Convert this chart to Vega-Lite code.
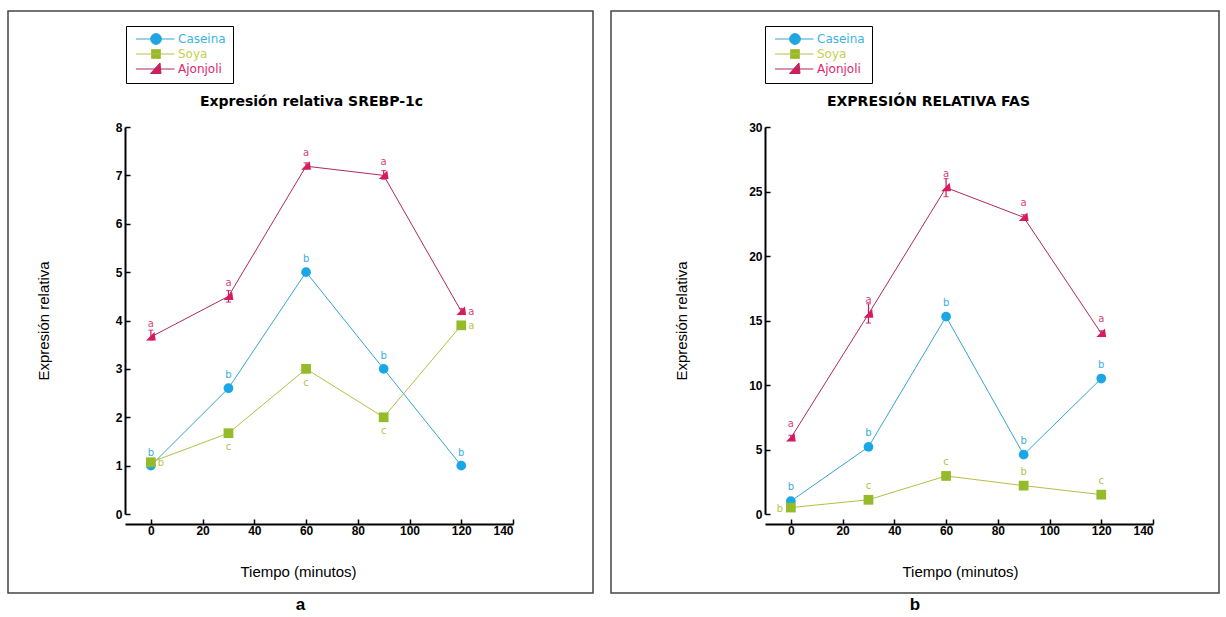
{
  "$schema": "https://vega.github.io/schema/vega-lite/v6.json",
  "padding": {"left": 7, "top": 10, "right": 4, "bottom": 0},
  "spacing": 16,
  "config": {
    "view": {"stroke": "#444", "strokeWidth": 1.5},
    "font": "Liberation Sans"
  },
  "datasets": {
    "a": [
      {"serie": "Caseina", "t": 0, "v": 1.0, "let": "b", "pos": "above"},
      {"serie": "Caseina", "t": 30, "v": 2.6, "let": "b", "pos": "above"},
      {"serie": "Caseina", "t": 60, "v": 5.0, "let": "b", "pos": "above"},
      {"serie": "Caseina", "t": 90, "v": 3.0, "let": "b", "pos": "above"},
      {"serie": "Caseina", "t": 120, "v": 1.0, "let": "b", "pos": "above"},
      {"serie": "Soya", "t": 0, "v": 1.07, "let": "b", "pos": "right"},
      {"serie": "Soya", "t": 30, "v": 1.67, "let": "c", "pos": "below"},
      {"serie": "Soya", "t": 60, "v": 3.0, "let": "c", "pos": "below"},
      {"serie": "Soya", "t": 90, "v": 2.0, "let": "c", "pos": "below"},
      {"serie": "Soya", "t": 120, "v": 3.9, "let": "a", "pos": "right"},
      {"serie": "Ajonjoli", "t": 0, "v": 3.66, "lo": 3.6, "hi": 3.8, "let": "a", "pos": "above"},
      {"serie": "Ajonjoli", "t": 30, "v": 4.5, "lo": 4.38, "hi": 4.62, "let": "a", "pos": "above"},
      {"serie": "Ajonjoli", "t": 60, "v": 7.19, "lo": 7.14, "hi": 7.26, "let": "a", "pos": "above"},
      {"serie": "Ajonjoli", "t": 90, "v": 7.0, "lo": 6.92, "hi": 7.1, "let": "a", "pos": "above"},
      {"serie": "Ajonjoli", "t": 120, "v": 4.19, "lo": 4.14, "hi": 4.25, "let": "a", "pos": "right"}
    ],
    "b": [
      {"serie": "Caseina", "t": 0, "v": 1.0, "let": "b", "pos": "above"},
      {"serie": "Caseina", "t": 30, "v": 5.2, "let": "b", "pos": "above"},
      {"serie": "Caseina", "t": 60, "v": 15.3, "let": "b", "pos": "above"},
      {"serie": "Caseina", "t": 90, "v": 4.6, "let": "b", "pos": "above"},
      {"serie": "Caseina", "t": 120, "v": 10.5, "let": "b", "pos": "above"},
      {"serie": "Soya", "t": 0, "v": 0.5, "let": "b", "pos": "left"},
      {"serie": "Soya", "t": 30, "v": 1.1, "let": "c", "pos": "above"},
      {"serie": "Soya", "t": 60, "v": 2.95, "let": "c", "pos": "above"},
      {"serie": "Soya", "t": 90, "v": 2.2, "let": "b", "pos": "above"},
      {"serie": "Soya", "t": 120, "v": 1.5, "let": "c", "pos": "above"},
      {"serie": "Ajonjoli", "t": 0, "v": 5.9, "lo": 5.7, "hi": 6.1, "let": "a", "pos": "above"},
      {"serie": "Ajonjoli", "t": 30, "v": 15.5, "lo": 14.8, "hi": 16.3, "let": "a", "pos": "above"},
      {"serie": "Ajonjoli", "t": 60, "v": 25.3, "lo": 24.6, "hi": 26.0, "let": "a", "pos": "above"},
      {"serie": "Ajonjoli", "t": 90, "v": 23.0, "lo": 22.8, "hi": 23.2, "let": "a", "pos": "above"},
      {"serie": "Ajonjoli", "t": 120, "v": 14.0, "lo": 13.8, "hi": 14.2, "let": "a", "pos": "above"}
    ]
  },
  "hconcat": [
    {
      "width": 585,
      "height": 582,
      "data": {"name": "a"},
      "title": {"text": "a", "orient": "bottom", "fontSize": 17, "fontWeight": "bold", "offset": 4, "font": "Liberation Sans", "color": "#000"},
      "resolve": {"axis": {"x": "independent"}, "scale": {"shape": "independent", "color": "independent"}},
      "layer": [
        {
          "mark": {"type": "line", "strokeWidth": 1},
          "encoding": {
            "x": {"field": "t", "type": "quantitative",
              "scale": {"domain": [-10, 140], "range": [117, 505], "nice": false, "zero": false},
              "axis": {"orient": "bottom", "offset": -69, "values": [0, 20, 40, 60, 80, 100, 120, 140], "tickSize": -5, "tickColor": "#000", "tickWidth": 1.5, "domainColor": "#000", "domainWidth": 2, "labelFont": "Liberation Sans", "labelFontWeight": "bold", "labelFontSize": 12, "labelColor": "#000", "labelPadding": 6, "grid": false, "title": "Tiempo (minutos)", "titleFont": "Liberation Sans", "titleFontSize": 15, "titleFontWeight": "normal", "titleColor": "#000", "titleX": 290, "titleY": 40}},
            "y": {"field": "v", "type": "quantitative",
              "scale": {"domain": [0, 8], "range": [503, 116], "nice": false, "zero": false},
              "axis": {"orient": "left", "offset": -117, "values": [0, 1, 2, 3, 4, 5, 6, 7, 8], "format": "d", "tickSize": -5, "tickColor": "#000", "tickWidth": 1.5, "domainColor": "#000", "domainWidth": 2, "labelFont": "Liberation Sans", "labelFontWeight": "bold", "labelFontSize": 12, "labelColor": "#000", "labelPadding": 8, "grid": false, "title": "Expresión relativa", "titleFont": "Liberation Sans", "titleFontSize": 15, "titleFontWeight": "normal", "titleColor": "#000", "titleX": -82, "titleBaseline": "middle"}},
            "color": {"field": "serie", "type": "nominal", "scale": {"domain": ["Caseina", "Soya", "Ajonjoli"], "range": ["#35a3d6", "#b5bf45", "#b0285e"]}, "legend": null}
          }
        },
        {
          "transform": [{"filter": "isValid(datum.lo)"}],
          "mark": {"type": "errorbar", "ticks": true, "thickness": 1.2},
          "encoding": {
            "x": {"field": "t", "type": "quantitative", "axis": null},
            "y": {"field": "lo", "type": "quantitative", "title": "Expresión relativa"},
            "y2": {"field": "hi"},
            "color": {"field": "serie", "type": "nominal", "scale": {"domain": ["Caseina", "Soya", "Ajonjoli"], "range": ["#1aa7e0", "#99bb33", "#c81a5a"]}, "legend": null}
          }
        },
        {
          "mark": {"type": "point", "filled": true, "size": 95, "opacity": 1},
          "encoding": {
            "x": {"field": "t", "type": "quantitative", "axis": null},
            "y": {"field": "v", "type": "quantitative"},
            "shape": {"field": "serie", "type": "nominal", "scale": {"domain": ["Caseina", "Soya", "Ajonjoli"], "range": ["circle", "square", "M-1,0.75L1,0.75L0.75,-1Z"]}, "legend": null},
            "color": {"field": "serie", "type": "nominal", "scale": {"domain": ["Caseina", "Soya", "Ajonjoli"], "range": ["#1aa7e6", "#95bb2b", "#d81b60"]}, "legend": null}
          }
        },
        {
          "transform": [{"filter": "datum.pos === 'above'"}],
          "mark": {"type": "text", "dy": -13, "fontSize": 10, "font": "DejaVu Sans"},
          "encoding": {
            "x": {"field": "t", "type": "quantitative", "axis": null},
            "y": {"field": "v", "type": "quantitative"},
            "text": {"field": "let"},
            "color": {"field": "serie", "type": "nominal", "scale": {"domain": ["Caseina", "Soya", "Ajonjoli"], "range": ["#3aaee0", "#b8c34a", "#d8467a"]}, "legend": null}
          }
        },
        {
          "transform": [{"filter": "datum.pos === 'below'"}],
          "mark": {"type": "text", "dy": 14, "fontSize": 10, "font": "DejaVu Sans"},
          "encoding": {
            "x": {"field": "t", "type": "quantitative", "axis": null},
            "y": {"field": "v", "type": "quantitative"},
            "text": {"field": "let"},
            "color": {"field": "serie", "type": "nominal", "scale": {"domain": ["Caseina", "Soya", "Ajonjoli"], "range": ["#3aaee0", "#b8c34a", "#d8467a"]}, "legend": null}
          }
        },
        {
          "transform": [{"filter": "datum.pos === 'right'"}],
          "mark": {"type": "text", "dx": 10, "dy": 1, "fontSize": 10, "font": "DejaVu Sans"},
          "encoding": {
            "x": {"field": "t", "type": "quantitative", "axis": null},
            "y": {"field": "v", "type": "quantitative"},
            "text": {"field": "let"},
            "color": {"field": "serie", "type": "nominal", "scale": {"domain": ["Caseina", "Soya", "Ajonjoli"], "range": ["#3aaee0", "#b8c34a", "#d8467a"]}, "legend": null}
          }
        },
        {
          "mark": {"type": "point", "opacity": 0, "filled": true, "strokeWidth": 1,
            "fill": {"expr": "datum.value === 'Caseina' ? '#1aa7e6' : datum.value === 'Soya' ? '#95bb2b' : '#d81b60'"},
            "stroke": {"expr": "datum.value === 'Caseina' ? '#35a3d6' : datum.value === 'Soya' ? '#b5bf45' : '#b0285e'"}},
          "encoding": {
            "x": {"field": "t", "type": "quantitative",
              "axis": {"orient": "top", "offset": -90, "domain": false, "ticks": false, "labels": false, "grid": false, "title": "Expresión relativa SREBP-1c", "titleFont": "DejaVu Sans", "titleFontSize": 14, "titleFontWeight": "bold", "titleColor": "#000", "titleX": 303, "titleY": 0, "titleBaseline": "middle"}},
            "y": {"field": "v", "type": "quantitative"},
            "shape": {"field": "serie", "type": "nominal",
              "scale": {"domain": ["Caseina", "Soya", "Ajonjoli"], "range": ["M-0.6,0H7.1M4.48,0A1.08,1.08 0 1,1 2.32,0A1.08,1.08 0 1,1 4.48,0Z", "M-0.6,0H7.1M2.5,-0.9H4.3V0.9H2.5Z", "M-0.6,0H7.1M2.3,0.9L4.4,0.9L4.2,-1.2Z"]},
              "legend": {"orient": "none", "legendX": 118, "legendY": 15, "title": null, "strokeColor": "#000", "padding": 7, "rowPadding": 0, "symbolSize": 100, "symbolStrokeWidth": 1, "symbolOpacity": 1,
                "labelColor": {"expr": "datum.value === 'Caseina' ? '#3ab4e4' : datum.value === 'Soya' ? '#c6cf4e' : '#e0266e'"},
                "labelFont": "DejaVu Sans", "labelFontSize": 12, "labelOffset": 33}}
          }
        }
      ]
    },
    {
      "width": 608,
      "height": 582,
      "data": {"name": "b"},
      "title": {"text": "b", "orient": "bottom", "fontSize": 17, "fontWeight": "bold", "offset": 4, "font": "Liberation Sans", "color": "#000"},
      "resolve": {"axis": {"x": "independent"}, "scale": {"shape": "independent", "color": "independent"}},
      "layer": [
        {
          "mark": {"type": "line", "strokeWidth": 1},
          "encoding": {
            "x": {"field": "t", "type": "quantitative",
              "scale": {"domain": [-10, 140], "range": [154, 542], "nice": false, "zero": false},
              "axis": {"orient": "bottom", "offset": -69, "values": [0, 20, 40, 60, 80, 100, 120, 140], "tickSize": -5, "tickColor": "#000", "tickWidth": 1.5, "domainColor": "#000", "domainWidth": 2, "labelFont": "Liberation Sans", "labelFontWeight": "bold", "labelFontSize": 12, "labelColor": "#000", "labelPadding": 6, "grid": false, "title": "Tiempo (minutos)", "titleFont": "Liberation Sans", "titleFontSize": 15, "titleFontWeight": "normal", "titleColor": "#000", "titleX": 349, "titleY": 40}},
            "y": {"field": "v", "type": "quantitative",
              "scale": {"domain": [0, 30], "range": [503, 116], "nice": false, "zero": false},
              "axis": {"orient": "left", "offset": -154, "values": [0, 5, 10, 15, 20, 25, 30], "format": "d", "tickSize": -5, "tickColor": "#000", "tickWidth": 1.5, "domainColor": "#000", "domainWidth": 2, "labelFont": "Liberation Sans", "labelFontWeight": "bold", "labelFontSize": 12, "labelColor": "#000", "labelPadding": 8, "grid": false, "title": "Expresión relativa", "titleFont": "Liberation Sans", "titleFontSize": 15, "titleFontWeight": "normal", "titleColor": "#000", "titleX": -84, "titleBaseline": "middle"}},
            "color": {"field": "serie", "type": "nominal", "scale": {"domain": ["Caseina", "Soya", "Ajonjoli"], "range": ["#35a3d6", "#b5bf45", "#b0285e"]}, "legend": null}
          }
        },
        {
          "transform": [{"filter": "isValid(datum.lo)"}],
          "mark": {"type": "errorbar", "ticks": true, "thickness": 1.2},
          "encoding": {
            "x": {"field": "t", "type": "quantitative", "axis": null},
            "y": {"field": "lo", "type": "quantitative", "title": "Expresión relativa"},
            "y2": {"field": "hi"},
            "color": {"field": "serie", "type": "nominal", "scale": {"domain": ["Caseina", "Soya", "Ajonjoli"], "range": ["#1aa7e0", "#99bb33", "#c81a5a"]}, "legend": null}
          }
        },
        {
          "mark": {"type": "point", "filled": true, "size": 95, "opacity": 1},
          "encoding": {
            "x": {"field": "t", "type": "quantitative", "axis": null},
            "y": {"field": "v", "type": "quantitative"},
            "shape": {"field": "serie", "type": "nominal", "scale": {"domain": ["Caseina", "Soya", "Ajonjoli"], "range": ["circle", "square", "M-1,0.75L1,0.75L0.75,-1Z"]}, "legend": null},
            "color": {"field": "serie", "type": "nominal", "scale": {"domain": ["Caseina", "Soya", "Ajonjoli"], "range": ["#1aa7e6", "#95bb2b", "#d81b60"]}, "legend": null}
          }
        },
        {
          "transform": [{"filter": "datum.pos === 'above'"}],
          "mark": {"type": "text", "dy": -14, "fontSize": 10, "font": "DejaVu Sans"},
          "encoding": {
            "x": {"field": "t", "type": "quantitative", "axis": null},
            "y": {"field": "v", "type": "quantitative"},
            "text": {"field": "let"},
            "color": {"field": "serie", "type": "nominal", "scale": {"domain": ["Caseina", "Soya", "Ajonjoli"], "range": ["#3aaee0", "#b8c34a", "#d8467a"]}, "legend": null}
          }
        },
        {
          "transform": [{"filter": "datum.pos === 'left'"}],
          "mark": {"type": "text", "dx": -11, "dy": 1, "fontSize": 10, "font": "DejaVu Sans"},
          "encoding": {
            "x": {"field": "t", "type": "quantitative", "axis": null},
            "y": {"field": "v", "type": "quantitative"},
            "text": {"field": "let"},
            "color": {"field": "serie", "type": "nominal", "scale": {"domain": ["Caseina", "Soya", "Ajonjoli"], "range": ["#3aaee0", "#b8c34a", "#d8467a"]}, "legend": null}
          }
        },
        {
          "mark": {"type": "point", "opacity": 0, "filled": true, "strokeWidth": 1,
            "fill": {"expr": "datum.value === 'Caseina' ? '#1aa7e6' : datum.value === 'Soya' ? '#95bb2b' : '#d81b60'"},
            "stroke": {"expr": "datum.value === 'Caseina' ? '#35a3d6' : datum.value === 'Soya' ? '#b5bf45' : '#b0285e'"}},
          "encoding": {
            "x": {"field": "t", "type": "quantitative",
              "axis": {"orient": "top", "offset": -90, "domain": false, "ticks": false, "labels": false, "grid": false, "title": "EXPRESIÓN RELATIVA FAS", "titleFont": "DejaVu Sans", "titleFontSize": 14, "titleFontWeight": "bold", "titleColor": "#000", "titleX": 317, "titleY": 0, "titleBaseline": "middle"}},
            "y": {"field": "v", "type": "quantitative"},
            "shape": {"field": "serie", "type": "nominal",
              "scale": {"domain": ["Caseina", "Soya", "Ajonjoli"], "range": ["M-0.6,0H7.1M4.48,0A1.08,1.08 0 1,1 2.32,0A1.08,1.08 0 1,1 4.48,0Z", "M-0.6,0H7.1M2.5,-0.9H4.3V0.9H2.5Z", "M-0.6,0H7.1M2.3,0.9L4.4,0.9L4.2,-1.2Z"]},
              "legend": {"orient": "none", "legendX": 154, "legendY": 15, "title": null, "strokeColor": "#000", "padding": 7, "rowPadding": 0, "symbolSize": 100, "symbolStrokeWidth": 1, "symbolOpacity": 1,
                "labelColor": {"expr": "datum.value === 'Caseina' ? '#3ab4e4' : datum.value === 'Soya' ? '#c6cf4e' : '#e0266e'"},
                "labelFont": "DejaVu Sans", "labelFontSize": 12, "labelOffset": 33}}
          }
        }
      ]
    }
  ]
}
